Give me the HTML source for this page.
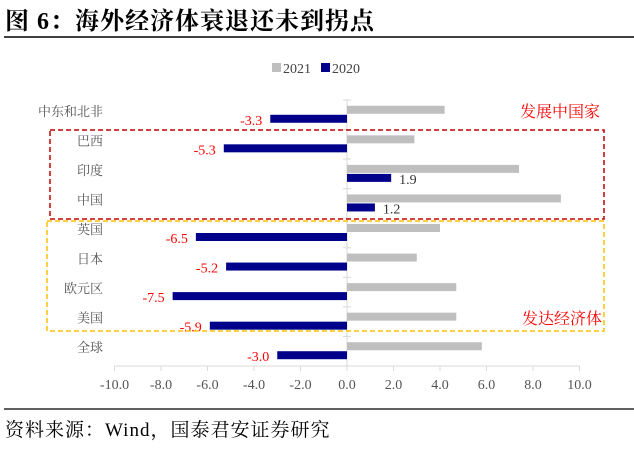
<!DOCTYPE html>
<html><head><meta charset="utf-8"><style>
body{margin:0;width:634px;height:450px;background:#fff;overflow:hidden;font-family:"Liberation Serif","Noto Serif CJK SC",serif}
</style></head><body>
<svg width="634" height="450" xmlns="http://www.w3.org/2000/svg">
<text x="5" y="29" font-size="24" font-weight="bold" letter-spacing="1" font-family="Liberation Serif, Noto Serif CJK SC, serif">图 6：海外经济体衰退还未到拐点</text>
<line x1="4" y1="37" x2="634" y2="37" stroke="#000" stroke-width="1.5"/>
<g font-size="14" fill="#444">
<rect x="272" y="63" width="9" height="9" fill="#bfbfbf"/>
<text x="283" y="73">2021</text>
<rect x="321" y="63" width="9" height="9" fill="#00008b"/>
<text x="332" y="73">2020</text>
</g>
<g id="plot"></g>
<rect x="50" y="130" width="554" height="89" fill="none" stroke="#c00000" stroke-width="1.5" stroke-dasharray="5,3"/>
<rect x="47" y="221" width="557" height="110" fill="none" stroke="#ffc000" stroke-width="1.5" stroke-dasharray="5,3"/>
<text x="520" y="117" font-size="16" fill="#ff0000" font-family="Noto Serif CJK SC, serif">发展中国家</text>
<text x="522" y="324" font-size="16" fill="#ff0000" font-family="Noto Serif CJK SC, serif">发达经济体</text>
<line x1="4" y1="409" x2="634" y2="409" stroke="#000" stroke-width="1.2"/>
<text x="5" y="436" font-size="19" letter-spacing="1">资料来源：Wind，国泰君安证券研究</text>
</svg>
<script>
const categories=["中东和北非","巴西","印度","中国","英国","日本","欧元区","美国","全球"];
const values2021=[4.2,2.9,7.4,9.2,4.0,3.0,4.7,4.7,5.8];
const values2020=[-3.3,-5.3,1.9,1.2,-6.5,-5.2,-7.5,-5.9,-3.0];
const ticks=[-10,-8,-6,-4,-2,0,2,4,6,8,10];
const ns="http://www.w3.org/2000/svg";
const g=document.getElementById("plot");
const x=v=>347+v*23.25;
const top0=100,bot=366,band=(bot-top0)/categories.length;
const y=i=>top0+band*i+band/2;
function mk(t,a){const e=document.createElementNS(ns,t);for(const k in a)e.setAttribute(k,a[k]);g.appendChild(e);return e;}
let ax=mk("line",{x1:x(-10),y1:bot,x2:x(10),y2:bot,stroke:"#d9d9d9"});


let va=mk("line",{x1:x(0),y1:top0,x2:x(0),y2:bot,stroke:"#d9d9d9"});


ticks.forEach(t=>{
 let l=mk("line",{x1:x(t),y1:bot,x2:x(t),y2:bot+5,stroke:"#d9d9d9"});
 
 
 let tx=mk("text",{x:x(t),y:bot+23,"text-anchor":"middle","font-size":"14",fill:"#555"});
 tx.textContent=t.toFixed(1);
 
 
});
categories.forEach((c,i)=>{
 const cy=y(i);
 let tk=mk("line",{x1:x(0)-4,y1:top0+band*i,x2:x(0)+4,y2:top0+band*i,stroke:"#d9d9d9"});
 
 
 let lb=mk("text",{x:103,y:cy+1,"text-anchor":"end","font-size":"13",fill:"#555","font-family":"Noto Serif CJK SC, serif"});
 lb.textContent=c;
 
 
 const a=values2021[i];
 let b1=mk("rect",{x:Math.min(x(0),x(a)),y:cy-9,width:Math.abs(x(a)-x(0)),height:8,fill:"#bfbfbf"});
 
 
 const b=values2020[i];
 let b2=mk("rect",{x:Math.min(x(0),x(b)),y:cy,width:Math.abs(x(b)-x(0)),height:8,fill:"#00008b"});
 
 
 let vl=mk("text",{x:b<0?x(b)-8:x(b)+8,y:cy+10,"text-anchor":b<0?"end":"start","font-size":"14",fill:b<0?"#ff0000":"#333"});
 vl.textContent=b.toFixed(1);
 
 
});
</script>
</body></html>
